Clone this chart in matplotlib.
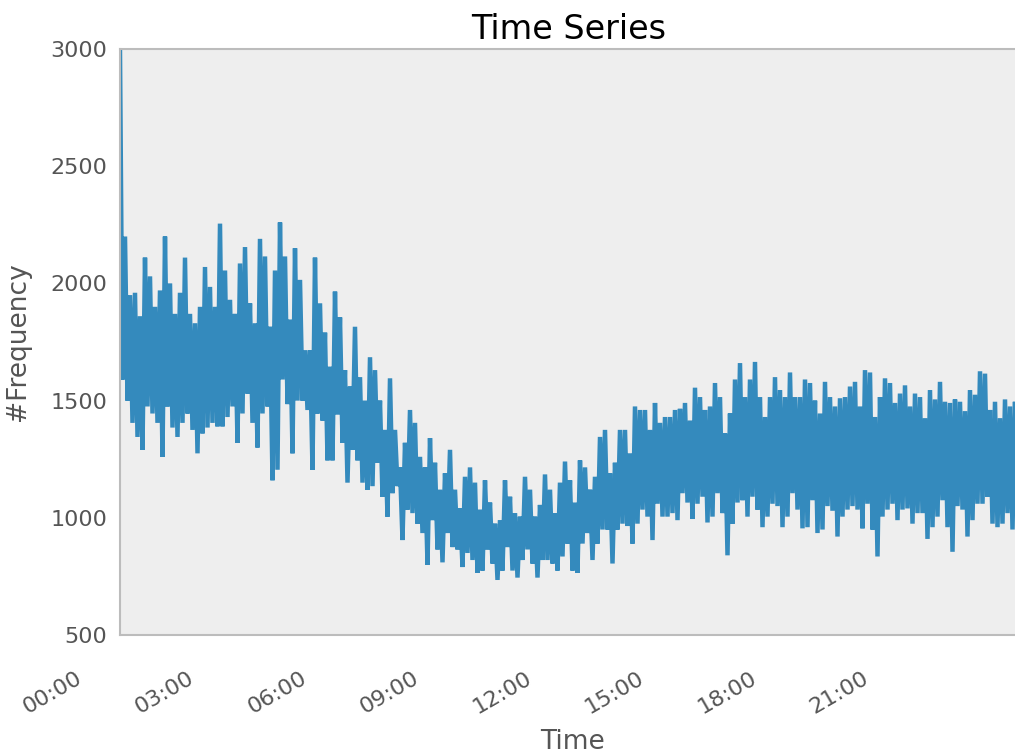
import matplotlib
matplotlib.use("Agg")
import matplotlib.pyplot as plt
import matplotlib.dates as mdates
import numpy as np
import pandas as pd

# Readings sampled every 4 minutes; the signal alternates between the
# local highs and the local lows of the counter.
highs = [
    2990, 2200, 1950, 1960, 1860, 2110, 2030, 1900, 1970, 2200, 2000, 1870,
    1960, 2110, 1870, 1830, 1900, 2070, 1985, 1900, 2255, 2055, 1930, 1870,
    2085, 2155, 1915, 1830, 2190, 2115, 1815, 2055, 2260, 2115, 1845, 2150,
    2015, 1715, 1715, 2110, 1915, 1790, 1645, 1965, 1855, 1630, 1560, 1815,
    1600, 1500, 1685, 1630, 1500, 1375, 1595, 1375, 1215, 1320, 1460, 1405,
    1260, 1215, 1340, 1235, 1120, 1190, 1290, 1120, 1040, 1175, 1215, 1150,
    1035, 1160, 1065, 975, 990, 1160, 1090, 1020, 1005, 1175, 1120, 1005,
    1055, 1185, 1120, 1020, 1150, 1240, 1160, 1065, 1245, 1215, 1120, 1175,
    1345, 1375, 1190, 1235, 1375, 1375, 1275, 1475, 1460, 1460, 1375, 1490,
    1405, 1430, 1430, 1460, 1465, 1490, 1415, 1555, 1515, 1460, 1475, 1575,
    1515, 1360, 1445, 1590, 1660, 1515, 1590, 1665, 1515, 1430, 1515, 1600,
    1545, 1515, 1620, 1515, 1515, 1590, 1575, 1500, 1445, 1580, 1515, 1475,
    1510, 1515, 1560, 1580, 1475, 1630, 1620, 1430, 1515, 1595, 1575, 1490,
    1530, 1565, 1475, 1530, 1515, 1425, 1545, 1505, 1580, 1495, 1490, 1505,
    1495, 1455, 1545, 1525, 1625, 1615, 1460, 1495, 1425, 1505, 1475, 1495,
]
lows = [
    1590, 1500, 1405, 1345, 1290, 1475, 1445, 1405, 1260, 1475, 1385, 1345,
    1405, 1445, 1375, 1275, 1360, 1385, 1405, 1390, 1390, 1430, 1475, 1320,
    1445, 1530, 1405, 1300, 1445, 1475, 1160, 1205, 1590, 1485, 1275, 1500,
    1500, 1460, 1205, 1445, 1415, 1245, 1245, 1440, 1320, 1150, 1290, 1245,
    1150, 1120, 1135, 1235, 1090, 1005, 1105, 1135, 905, 1035, 1020, 975,
    935, 800, 990, 865, 810, 935, 875, 865, 790, 850, 820, 765,
    775, 865, 805, 735, 775, 875, 775, 745, 820, 865, 805, 745,
    820, 820, 805, 775, 835, 890, 775, 765, 890, 935, 820, 890,
    950, 950, 805, 950, 975, 965, 890, 975, 1035, 1005, 905, 1060,
    1005, 1005, 1020, 990, 1105, 1065, 995, 1060, 1090, 980, 1005, 1105,
    1020, 840, 975, 1065, 1075, 1005, 1090, 1035, 960, 1005, 1060, 1050,
    960, 1005, 1105, 1035, 955, 960, 1075, 935, 950, 1050, 1030, 920,
    1005, 1035, 1050, 1035, 955, 1060, 950, 835, 1005, 1035, 1060, 990,
    1035, 1040, 975, 1020, 1020, 910, 960, 1005, 1075, 960, 855, 1050,
    1035, 920, 990, 1060, 1060, 1090, 975, 960, 975, 1020, 950, 1020,
]
tick_labels = ["00:00", "03:00", "06:00", "09:00", "12:00", "15:00", "18:00", "21:00"]
y_ticks = [500, 1000, 1500, 2000, 2500, 3000]

values = np.empty(len(highs) + len(lows))
values[0::2] = highs
values[1::2] = lows
times = pd.date_range("2020-01-01 00:56", periods=len(values), freq="4min")
day = pd.Timestamp("2020-01-01")

fig = plt.figure(figsize=(10.15, 7.55), dpi=100)
ax = fig.add_axes([120 / 1015, 120 / 755, 897.5 / 1015, 586 / 755])
ax.set_facecolor("#eeeeee")

ax.plot(times, values, color="#348ABD", linewidth=3.2, solid_joinstyle="miter")

ax.set_xlim(times[0], times[-1])
ax.set_ylim(500, 3000)
ax.set_yticks(y_ticks)
ax.set_yticklabels([str(v) for v in y_ticks])
ax.set_xticks([])
ax.tick_params(axis="y", length=0, pad=9, labelsize=16, labelcolor="#555555")

# hour labels along the bottom, slanted like autofmt_xdate
for i, lab in enumerate(tick_labels):
    t = mdates.date2num(day + pd.Timedelta(hours=3 * i))
    ax.text(t, -0.056, lab, transform=ax.get_xaxis_transform(), rotation=30,
            ha="right", va="top", fontsize=16, color="#555555", clip_on=False)

for side in ["left", "bottom", "top"]:
    ax.spines[side].set_color("#bcbcbc")
    ax.spines[side].set_linewidth(1.5)
ax.spines["right"].set_visible(False)

ax.set_title("Time Series", fontsize=24, color="black", pad=7)
ax.set_ylabel("#Frequency", fontsize=19, color="#555555", labelpad=14)
fig.text(573, 755 - 742, "Time", transform=None, fontsize=19, color="#555555",
         ha="center", va="center")

fig.savefig("out.png", dpi=100)
